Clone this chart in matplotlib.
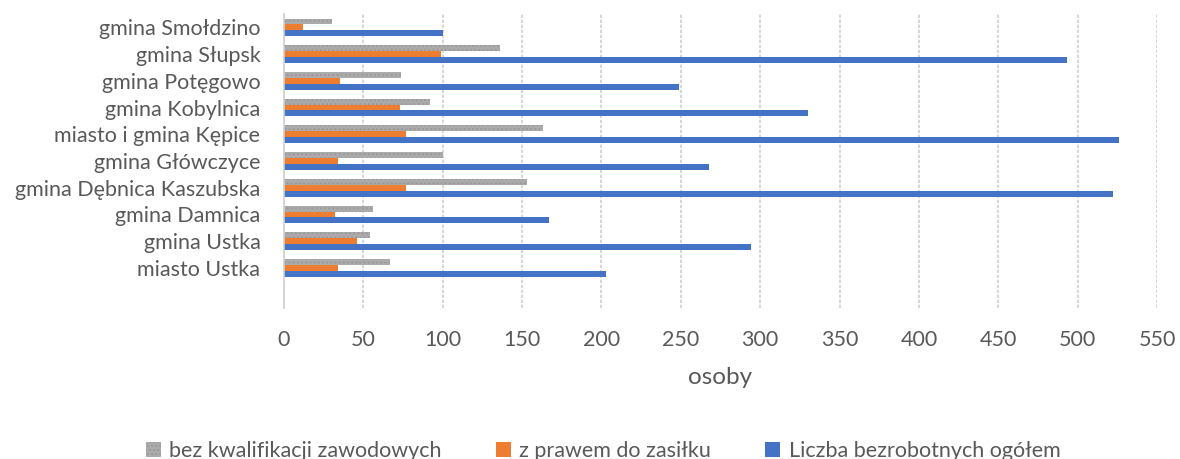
import matplotlib.pyplot as plt
import numpy as np

plt.rcParams['font.family'] = ['Lato', 'DejaVu Sans']

gminy = ["gmina Smołdzino", "gmina Słupsk", "gmina Potęgowo", "gmina Kobylnica",
         "miasto i gmina Kępice", "gmina Główczyce", "gmina Dębnica Kaszubska",
         "gmina Damnica", "gmina Ustka", "miasto Ustka"]
bez_kwalifikacji = [30, 136, 74, 92, 163, 100, 153, 56, 54, 67]
z_prawem = [12, 99, 35, 73, 77, 34, 77, 32, 46, 34]
ogolem = [100, 493, 249, 330, 526, 268, 522, 167, 294, 203]

txt = '#595959'
fig = plt.figure(figsize=(11.8, 4.59), dpi=100)
ax = fig.add_axes([284/1180, 1 - 308/459, (1157-284)/1180, (308-14)/459])

y = np.arange(len(gminy))
h = 0.22
ax.barh(y - h, bez_kwalifikacji, height=h, color='#ABABAB', hatch='....',
        edgecolor='#9A9A9A', linewidth=0, label='bez kwalifikacji zawodowych')
ax.barh(y, z_prawem, height=h, color='#ED7D31', label='z prawem do zasiłku')
ax.barh(y + h, ogolem, height=h, color='#4472C4', label='Liczba bezrobotnych ogółem')

ax.set_xlim(0, 550)
ax.set_ylim(len(gminy) + 0.5, -0.5)
ax.set_xticks(np.arange(0, 551, 50))
ax.set_yticks(y)
ax.set_yticklabels(gminy)
ax.tick_params(axis='both', length=0, labelsize=15.5, colors=txt)
ax.tick_params(axis='x', pad=16)
ax.tick_params(axis='y', pad=17)
ax.grid(axis='x', color='#D0D0D0', linestyle=(0, (2, 1)), linewidth=1.2)
ax.set_axisbelow(True)
for s in ['top', 'right', 'bottom']:
    ax.spines[s].set_visible(False)
ax.spines['left'].set_color('#D0D0D0')
ax.spines['left'].set_linewidth(1.2)
ax.set_xlabel('osoby', fontsize=17.5, color=txt, labelpad=12)

fig.legend(loc='center', bbox_to_anchor=(0.511, 1 - 451/459), ncol=3, frameon=False,
           fontsize=15.5, labelcolor=txt, handlelength=0.7, handleheight=0.7,
           columnspacing=2.5, handletextpad=0.4)

fig.savefig('out.png', dpi=100)
